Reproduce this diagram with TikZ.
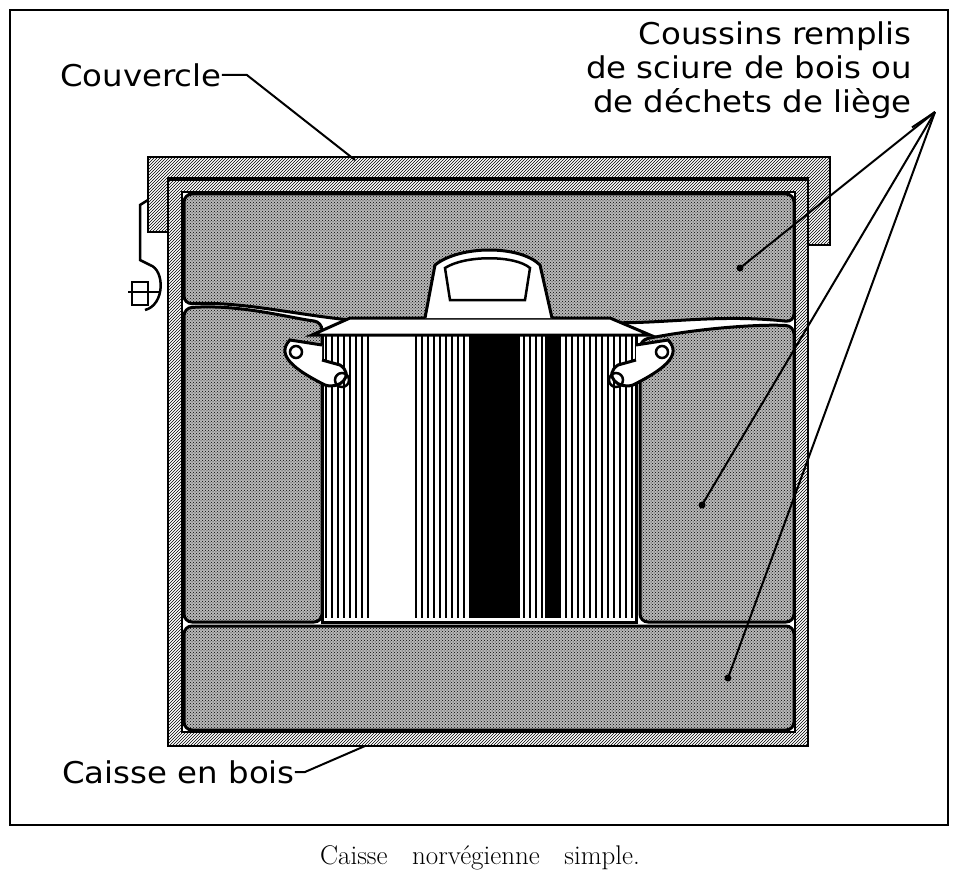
\documentclass[tikz,border=0pt]{standalone}
\usepackage{fontspec}
\setsansfont{DejaVu Sans}
\usetikzlibrary{patterns}
\tikzset{
  wall/.style={pattern=north east lines, draw=black, line width=2pt},
  cushion/.style={fill=black!28, postaction={pattern=crosshatch dots}, draw=black, line width=3pt, rounded corners=8pt},
  leader/.style={line width=2pt},
  lbl/.style={font=\sffamily\fontsize{30}{34}\selectfont, align=right, inner sep=0pt, xscale=1.08, transform shape},
}
\begin{document}
\begin{tikzpicture}[x=1pt,y=-1pt]
  \useasboundingbox (0,0) rectangle (960,885);
  % frame
  \draw[line width=2.5pt] (10,10) rectangle (948,825);
  % box walls
  \fill[wall, even odd rule] (168,180) rectangle (808,746) (182,192) rectangle (795,732);
  % lid
  \draw[wall] (148,157) -- (830,157) -- (830,245) -- (808,245) -- (808,178) -- (168,178) -- (168,232) -- (148,232) -- cycle;
  % clasp
  \draw[line width=2.5pt] (148,200) -- (140,205) -- (140,260) -- (150,265);
  \draw[line width=2.5pt] (128,292) -- (160,292) (132,282) rectangle (148,305);
  \draw[line width=2.5pt] (150,265) .. controls (165,270) and (165,305) .. (145,310);
  % cushions
  \draw[cushion] (184,194) -- (794,194) -- (794,322) .. controls (700,312) and (640,330) .. (560,318) -- (420,318) .. controls (350,330) and (260,300) .. (184,304) -- cycle;
  \draw[cushion] (184,308) .. controls (240,304) and (290,318) .. (322,322) -- (322,622) -- (184,622) -- cycle;
  \draw[cushion] (640,340) .. controls (700,328) and (760,324) .. (794,326) -- (794,622) -- (640,622) -- cycle;
  \draw[cushion] (184,626) -- (794,626) -- (794,730) -- (184,730) -- cycle;
  % pot body
  \fill[white] (322,332) rectangle (636,622);
  \foreach \x in {326,332,...,632}
    \draw[line width=1.8pt] (\x,335) -- (\x,618);
  \fill[white] (372,335) rectangle (412,618);
  \fill[black] (470,335) rectangle (520,618);
  \fill[black] (545,335) rectangle (560,618);
  \draw[line width=3pt] (322,332) rectangle (636,622);
  % pot lid and knob
  \draw[line width=3pt, fill=white] (312,335) -- (350,318) -- (610,318) -- (650,335) -- cycle;
  \draw[line width=3pt, fill=white] (425,318) -- (435,265) .. controls (460,245) and (520,245) .. (540,265) -- (552,318);
  \draw[line width=2.5pt, fill=white] (445,268) .. controls (465,255) and (515,255) .. (530,268) -- (525,300) -- (450,300) -- cycle;
  % side handles
  \draw[line width=3pt, fill=white] (322,345) -- (290,340) .. controls (275,355) and (295,370) .. (325,385) .. controls (340,390) and (355,375) .. (340,365) -- (322,360);
  \draw[line width=2.5pt] (296,352) circle (6) (342,380) circle (7);
  \draw[line width=3pt, fill=white] (636,345) -- (668,340) .. controls (683,355) and (663,370) .. (633,385) .. controls (618,390) and (603,375) .. (618,365) -- (636,360);
  \draw[line width=2.5pt] (662,352) circle (6) (616,380) circle (7);
  % labels
  \node[lbl, anchor=west] (couv) at (60,75) {Couvercle};
  \coordinate (couvend) at (355,160);
  \draw[leader] (couv.east) -- ++(25,0) -- (couvend);
  \node[lbl, anchor=north east] (coussins) at (912,22) {Coussins remplis\\de sciure de bois ou\\de déchets de liège};
  \coordinate (hub) at (935,112);
  \coordinate (c1) at (740,268);
  \coordinate (c2) at (702,505);
  \coordinate (c3) at (728,678);
  \draw[leader] (coussins.south east) ++(0,8) -- (hub);
  \foreach \c in {c1,c2,c3} {
    \draw[leader] (hub) -- (\c);
    \fill (\c) circle (3.5);
  }
  \node[lbl, anchor=west] (caisse) at (62,772) {Caisse en bois};
  \coordinate (caisseend) at (365,746);
  \draw[leader] (caisse.east) -- ++(10,0) -- (caisseend);
  \node[font=\fontsize{27}{30}\selectfont] (caption) at (480,858) {Caisse\ \ \ norvégienne\ \ \ simple.};
\end{tikzpicture}
\end{document}
